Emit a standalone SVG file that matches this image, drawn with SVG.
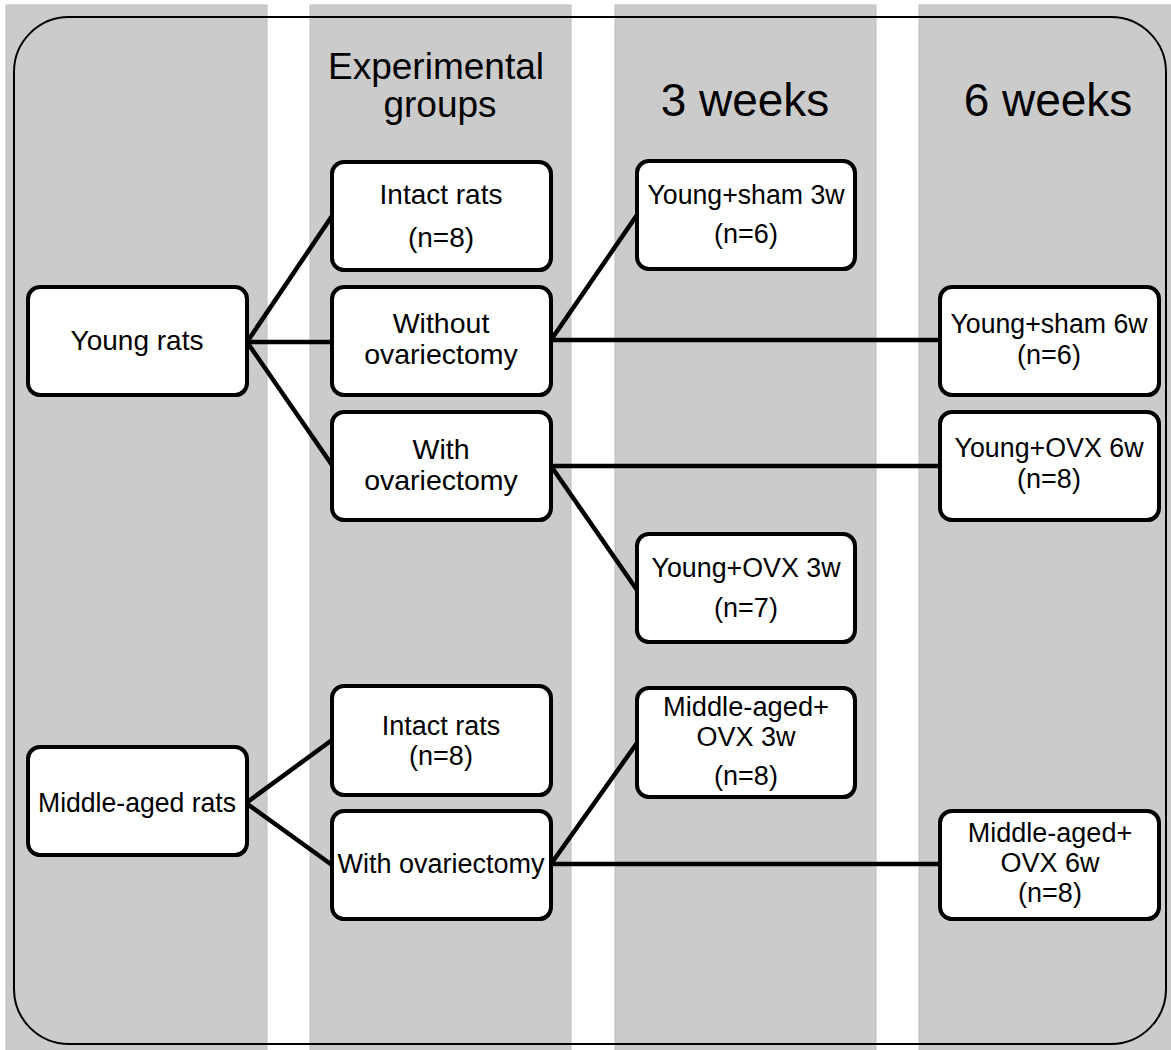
<svg xmlns="http://www.w3.org/2000/svg" width="1171" height="1050" viewBox="0 0 1171 1050">
<style>
.col{fill:#cbcbcb;stroke:#bdbdbd;stroke-width:1}
.frame{fill:none;stroke:#000;stroke-width:2}
.box{fill:#fff;stroke:#000;stroke-width:4}
.shadow{fill:#000}
.conn{stroke:#000;stroke-width:4.5;fill:none;stroke-linecap:butt}
text{font-family:"Liberation Sans",Arial,sans-serif;fill:#000;text-anchor:middle}
.t{font-size:27px}
.t28{font-size:28px}
.t30{font-size:28.5px}
.title{font-size:37px}
.big{font-size:46px}
</style>
<rect width="1171" height="1050" fill="#fff"/>
<g id="columns">
<rect class="col" x="6" y="5" width="261" height="1050"/>
<rect class="col" x="310" y="5" width="261" height="1050"/>
<rect class="col" x="615" y="5" width="261" height="1050"/>
<rect class="col" x="919" y="5" width="260" height="1050"/>
</g>
<rect class="frame" x="14" y="17" width="1152" height="1027" rx="55" ry="55"/>
<g id="titles">
<text class="title" x="436" y="79">Experimental</text>
<text class="title" x="440" y="117">groups</text>
<text class="big" x="745" y="116">3 weeks</text>
<text class="big" x="1048" y="116">6 weeks</text>
</g>
<g id="connectors">
<line class="conn" x1="247" y1="342" x2="332" y2="216"/>
<line class="conn" x1="247" y1="342" x2="332" y2="342"/>
<line class="conn" x1="247" y1="342" x2="332" y2="465"/>
<line class="conn" x1="551" y1="340" x2="637" y2="215"/>
<line class="conn" x1="551" y1="340" x2="940" y2="340"/>
<line class="conn" x1="551" y1="466" x2="940" y2="466"/>
<line class="conn" x1="551" y1="466" x2="637" y2="590"/>
<line class="conn" x1="246" y1="803" x2="332" y2="740"/>
<line class="conn" x1="246" y1="803" x2="332" y2="865"/>
<line class="conn" x1="551" y1="864" x2="637" y2="743"/>
<line class="conn" x1="551" y1="864" x2="940" y2="864"/>
</g>
<g id="young-rats">
<rect class="shadow" x="29" y="289" width="219" height="108" rx="12"/>
<rect class="box" x="28" y="287" width="219" height="108" rx="12"/>
<text class="t28" x="137" y="350">Young rats</text>
</g>
<g id="intact-young">
<rect class="shadow" x="333" y="164" width="219" height="108" rx="12"/>
<rect class="box" x="332" y="162" width="219" height="108" rx="12"/>
<text class="t28" x="441" y="204">Intact rats</text>
<text class="t28" x="441" y="247">(n=8)</text>
</g>
<g id="without-ovx">
<rect class="shadow" x="333" y="289" width="219" height="108" rx="12"/>
<rect class="box" x="332" y="287" width="219" height="108" rx="12"/>
<text class="t30" x="441" y="333">Without</text>
<text class="t30" x="441" y="364">ovariectomy</text>
</g>
<g id="with-ovx-young">
<rect class="shadow" x="333" y="414" width="219" height="108" rx="12"/>
<rect class="box" x="332" y="412" width="219" height="108" rx="12"/>
<text class="t30" x="441" y="459">With</text>
<text class="t30" x="441" y="490">ovariectomy</text>
</g>
<g id="young-sham-3w">
<rect class="shadow" x="638" y="163" width="218" height="108" rx="12"/>
<rect class="box" x="637" y="161" width="218" height="108" rx="12"/>
<text class="t" x="746" y="204" textLength="197" lengthAdjust="spacingAndGlyphs">Young+sham 3w</text>
<text class="t" x="746" y="243">(n=6)</text>
</g>
<g id="young-sham-6w">
<rect class="shadow" x="941" y="289" width="219" height="108" rx="12"/>
<rect class="box" x="940" y="287" width="219" height="108" rx="12"/>
<text class="t" x="1049" y="333" textLength="197" lengthAdjust="spacingAndGlyphs">Young+sham 6w</text>
<text class="t" x="1049" y="364">(n=6)</text>
</g>
<g id="young-ovx-6w">
<rect class="shadow" x="941" y="414" width="219" height="108" rx="12"/>
<rect class="box" x="940" y="412" width="219" height="108" rx="12"/>
<text class="t" x="1049" y="457" textLength="189" lengthAdjust="spacingAndGlyphs">Young+OVX 6w</text>
<text class="t" x="1049" y="488">(n=8)</text>
</g>
<g id="young-ovx-3w">
<rect class="shadow" x="638" y="536" width="218" height="108" rx="12"/>
<rect class="box" x="637" y="534" width="218" height="108" rx="12"/>
<text class="t" x="746" y="577" textLength="189" lengthAdjust="spacingAndGlyphs">Young+OVX 3w</text>
<text class="t" x="746" y="617">(n=7)</text>
</g>
<g id="middle-aged-rats">
<rect class="shadow" x="29" y="749" width="219" height="108" rx="12"/>
<rect class="box" x="28" y="747" width="219" height="108" rx="12"/>
<text class="t28" x="137" y="812" textLength="198" lengthAdjust="spacingAndGlyphs">Middle-aged rats</text>
</g>
<g id="intact-middle">
<rect class="shadow" x="333" y="688" width="219" height="109" rx="12"/>
<rect class="box" x="332" y="686" width="219" height="109" rx="12"/>
<text class="t" x="441" y="735">Intact rats</text>
<text class="t" x="441" y="765">(n=8)</text>
</g>
<g id="with-ovx-middle">
<rect class="shadow" x="333" y="813" width="219" height="108" rx="12"/>
<rect class="box" x="332" y="811" width="219" height="108" rx="12"/>
<text class="t" x="441" y="873">With ovariectomy</text>
</g>
<g id="middle-ovx-3w">
<rect class="shadow" x="638" y="690" width="218" height="109" rx="12"/>
<rect class="box" x="637" y="688" width="218" height="109" rx="12"/>
<text class="t" x="746" y="716" textLength="166" lengthAdjust="spacingAndGlyphs">Middle-aged+</text>
<text class="t" x="746" y="746">OVX 3w</text>
<text class="t" x="746" y="785">(n=8)</text>
</g>
<g id="middle-ovx-6w">
<rect class="shadow" x="941" y="813" width="219" height="108" rx="12"/>
<rect class="box" x="940" y="811" width="219" height="108" rx="12"/>
<text class="t" x="1050" y="842">Middle-aged+</text>
<text class="t" x="1050" y="872">OVX 6w</text>
<text class="t" x="1050" y="902">(n=8)</text>
</g>
</svg>
